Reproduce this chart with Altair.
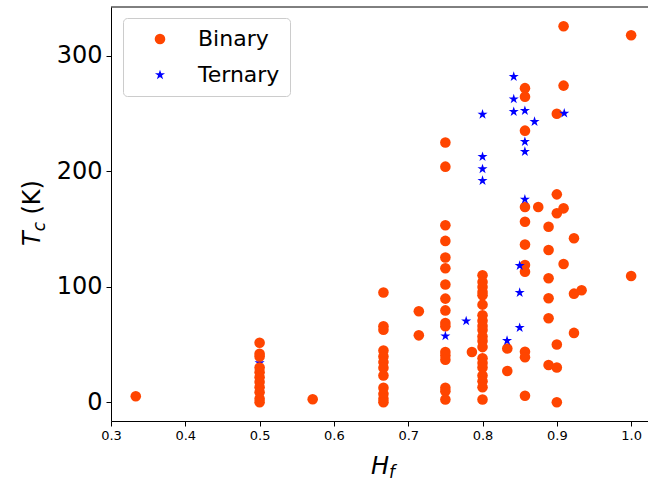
import altair as alt
import pandas as pd

# ---- data ----
binary_hf_levels = [1/3, 0.5, 4/7, 2/3, 5/7, 0.75, 11/14, 0.8, 5/6, 6/7,
                    7/8, 8/9, 0.9, 10/11, 12/13, 14/15, 1.0]
binary_tc_columns = [
    [5.2],
    [51.5, 42, 39.6, 30, 26, 21.7, 17.4, 13, 8.7, 3, 0],
    [2.6],
    [95, 65.7, 62.8, 44.8, 39.6, 34.7, 29.8, 23.1, 12.4, 7.2, 2.9, 0],
    [78.7, 57.9],
    [225, 204, 153.3, 139.7, 125.3, 116, 102, 89.7, 79.5, 68.6, 65.7,
     43.4, 40.5, 36.7, 12.4, 9.5, 2.3],
    [43.4],
    [110, 104, 99.8, 95.5, 92.6, 84.5, 75.2, 70.5, 66, 62.5, 57, 53,
     47.7, 38, 34, 30, 23.1, 18.2, 13, 2.3],
    [46.5, 27],
    [272, 264.5, 235.2, 169, 156.3, 136.5, 118.8, 113, 43.7, 38.9, 5.5],
    [169],
    [152, 131.8, 107.3, 90, 72.7, 32.2],
    [249.8, 180, 163.6, 50, 30, 0],
    [325.6, 274.2, 167.9, 119.7],
    [142, 94, 60],
    [97],
    [317.8, 109.3],
]

# ternary point hidden beneath the binary column at H_f = 0.5
tern_hidden_hf = [0.5]
tern_hidden_tc = [34]

tern_hf = [0.75, 0.778, 0.8, 0.8, 0.8, 0.8, 0.833, 0.842, 0.842, 0.842,
           0.85, 0.85, 0.85, 0.857, 0.857, 0.857, 0.857, 0.87, 0.91]
tern_tc = [57.3, 70.3, 249.3, 212.6, 202, 191.9, 53.3, 282, 262.6, 251.6,
           118.3, 94.9, 64.5, 252.5, 225.6, 217, 175.7, 243, 250.2]

x_ticks = [0.3, 0.4, 0.5, 0.6, 0.7, 0.8, 0.9, 1.0]
y_ticks = [0, 100, 200, 300]

# ---- build the table (data order = drawing order) ----
rows = []
for h, t in zip(tern_hidden_hf, tern_hidden_tc):
    rows.append({"Hf": h, "Tc": t, "type": "Ternary"})
for h, col in zip(binary_hf_levels, binary_tc_columns):
    for t in col:
        rows.append({"Hf": h, "Tc": t, "type": "Binary"})
for h, t in zip(tern_hf, tern_tc):
    rows.append({"Hf": h, "Tc": t, "type": "Ternary"})
df = pd.DataFrame(rows)

STAR = ("M0,-1L0.2245,-0.309L0.9511,-0.309L0.3633,0.118L0.5878,0.809"
        "L0,0.382L-0.5878,0.809L-0.3633,0.118L-0.9511,-0.309L-0.2245,-0.309Z")

W, H = 537, 414
FONT = "DejaVu Sans"

legend = alt.Legend(title=None, orient="none", legendX=12, legendY=11,
                    labelFont=FONT, labelFontSize=22, labelColor="black",
                    symbolSize=112, padding=10, rowPadding=14,
                    symbolOffset=16, labelOffset=27,
                    strokeColor="#cccccc", cornerRadius=4,
                    fillColor="white", symbolStrokeWidth=0)

points = alt.Chart(df).mark_point(filled=True, opacity=1, size=112, strokeWidth=0).encode(
    x=alt.X("Hf:Q",
            scale=alt.Scale(domain=[0.3, 1.0227], nice=False, zero=False),
            axis=alt.Axis(values=x_ticks, format=".1f", title=None, grid=False,
                          labelFont=FONT, labelFontSize=13, labelColor="black",
                          labelPadding=3, tickSize=5, tickColor="black",
                          domainColor="black", labelFlush=False)),
    y=alt.Y("Tc:Q",
            scale=alt.Scale(domain=[-16.3, 342.3], nice=False, zero=False),
            axis=alt.Axis(values=y_ticks, title=None, grid=False,
                          labelFont=FONT, labelFontSize=24, labelColor="black",
                          labelPadding=4, tickSize=5, tickColor="black",
                          domainColor="black")),
    color=alt.Color("type:N",
                    scale=alt.Scale(domain=["Binary", "Ternary"],
                                    range=["#FF4500", "#0000FF"]),
                    legend=legend),
    shape=alt.Shape("type:N",
                    scale=alt.Scale(domain=["Binary", "Ternary"],
                                    range=["circle", STAR]),
                    legend=legend),
)

one = alt.Data(values=[{"k": 1}])

top_line = alt.Chart(one).mark_rule(color="black", strokeWidth=1).encode(
    x=alt.value(0), x2=alt.value(W), y=alt.value(0))

def txt(s, x, y, size=24, italic=False, angle=0):
    kw = dict(text=s, font=FONT, fontSize=size, align="left",
              baseline="alphabetic", color="black")
    if italic:
        kw["fontStyle"] = "italic"
    if angle:
        kw["angle"] = angle
    return alt.Chart(one).mark_text(**kw).encode(x=alt.value(x), y=alt.value(y))

# y title: T_c (K)
yt1 = txt("T", -71, 239, italic=True, angle=270)
yt2 = txt("c", -66, 224.3, size=17, italic=True, angle=270)
yt3 = txt("(K)", -71, 207.5, angle=270)
# x title: H_f
xt1 = txt("H", 260, 467, italic=True)
xt2 = txt("f", 278, 471, size=17, italic=True)

chart = alt.layer(points, top_line, yt1, yt2, yt3, xt1, xt2).properties(
    width=W, height=H,
    autosize=alt.AutoSizeParams(type="none"),
    padding={"left": 111, "top": 7, "right": 0, "bottom": 60},
    background="white",
).configure_view(stroke=None)

chart.save("out.html", embed_options={"renderer": "svg", "actions": False})
